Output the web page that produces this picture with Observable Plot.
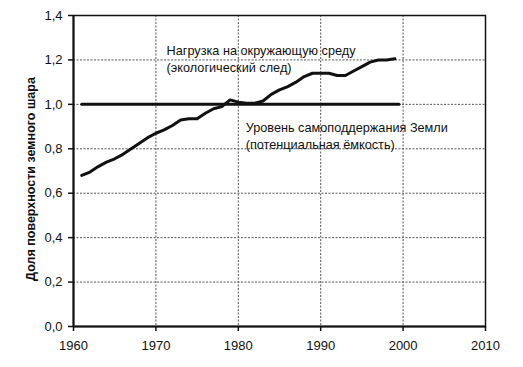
<!DOCTYPE html>
<html>
<head>
<meta charset="utf-8">
<script src="https://cdn.jsdelivr.net/npm/d3@7"></script>
<script src="https://cdn.jsdelivr.net/npm/@observablehq/plot@0.6"></script>
<style>
  html, body { margin: 0; padding: 0; background: #fff; }
</style>
</head>
<body>
<div id="chart"></div>
<script>
// Ecological footprint (load on environment), share of Earth's surface
const years = [1961,1962,1963,1964,1965,1966,1967,1968,1969,1970,
               1971,1972,1973,1974,1975,1976,1977,1978,1979,1980,
               1981,1982,1983,1984,1985,1986,1987,1988,1989,1990,
               1991,1992,1993,1994,1995,1996,1997,1998,1999];
const footprint = [0.68,0.695,0.72,0.74,0.755,0.775,0.80,0.825,0.85,0.87,
                   0.885,0.905,0.93,0.935,0.935,0.96,0.98,0.99,1.02,1.01,
                   1.005,1.005,1.015,1.045,1.065,1.08,1.10,1.125,1.14,1.14,
                   1.14,1.13,1.13,1.15,1.17,1.19,1.20,1.20,1.205];
// Biocapacity (self-sustaining level)
const capacityYears = [1961, 1999.5];
const capacity = [1.0, 1.0];

const xTicks = [1960, 1970, 1980, 1990, 2000, 2010];
const yTicks = [0, 0.2, 0.4, 0.6, 0.8, 1.0, 1.2, 1.4];
const yLabel = "Доля поверхности земного шара";
const annotations = [
  {x: 1971.3, y: 1.207, text: "Нагрузка на окружающую среду\n(экологический след)"},
  {x: 1980.9, y: 0.86, text: "Уровень самоподдержания Земли\n(потенциальная ёмкость)"}
];

const fp = years.map((y, i) => ({year: y, value: footprint[i]}));
const cap = capacityYears.map((y, i) => ({year: y, value: capacity[i]}));
const fmt = d => d.toFixed(1).replace(".", ",");

const chart = Plot.plot({
  width: 523,
  height: 367,
  marginLeft: 73,
  marginRight: 38,
  marginTop: 15,
  marginBottom: 41,
  style: {fontFamily: "'Liberation Sans', Arial, sans-serif", fontSize: "13px", color: "#111", background: "#fff"},
  x: {domain: [1960, 2010]},
  y: {domain: [0, 1.4]},
  marks: [
    Plot.gridX(xTicks, {stroke: "#555", strokeOpacity: 1, strokeDasharray: "2,1.5", strokeWidth: 1}),
    Plot.gridY(yTicks, {stroke: "#555", strokeOpacity: 1, strokeDasharray: "2,1.5", strokeWidth: 1}),
    Plot.frame({stroke: "#111", strokeWidth: 1.5}),
    Plot.axisX(xTicks, {tickFormat: d => String(d), tickSize: 5, tickPadding: 9, label: null, stroke: "#111", strokeWidth: 1.5, fontSize: 13}),
    Plot.axisY(yTicks, {tickFormat: fmt, tickSize: 5, tickPadding: 6, label: null, stroke: "#111", strokeWidth: 1.5, fontSize: 13}),
    Plot.ruleX([1960], {stroke: "#111", strokeWidth: 2}),
    Plot.ruleY([0], {stroke: "#111", strokeWidth: 2}),
    Plot.line(cap, {x: "year", y: "value", stroke: "#111", strokeWidth: 3}),
    Plot.line(fp, {x: "year", y: "value", stroke: "#111", strokeWidth: 3, curve: "linear"}),
    Plot.text(annotations, {x: "x", y: "y", text: "text", textAnchor: "start", lineHeight: 1.3, fill: "#111", fontSize: 12.7}),
    Plot.text([yLabel], {frameAnchor: "left", textAnchor: "middle", rotate: -90, dx: -43, dy: 8, fontWeight: "bold", fill: "#111", fontSize: 12.5})
  ]
});
document.getElementById("chart").appendChild(chart);
</script>
</body>
</html>
